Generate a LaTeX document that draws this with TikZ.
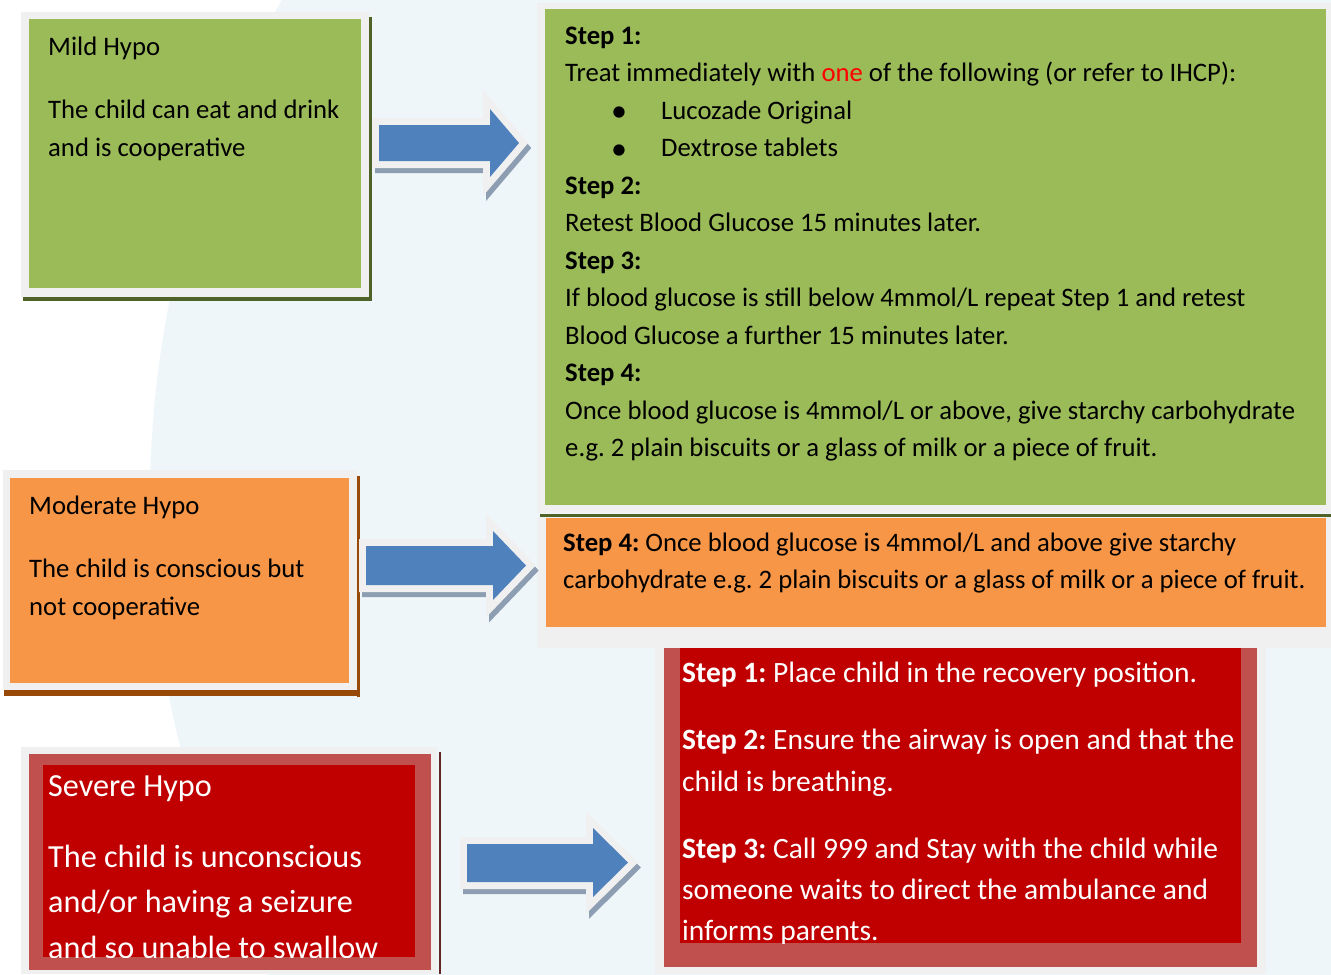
\documentclass[tikz,border=0pt]{standalone}
\usepackage{fontspec}
\setmainfont{Carlito}
\frenchspacing
\definecolor{bgblue}{HTML}{EFF6FA}
\definecolor{framegray}{HTML}{F0F0F0}
\definecolor{mildgreen}{HTML}{9BBB59}
\definecolor{darkgreen}{HTML}{4F6228}
\definecolor{modorange}{HTML}{F79646}
\definecolor{darkbrown}{HTML}{984807}
\definecolor{sevred}{HTML}{C00000}
\definecolor{lightred}{HTML}{C0504D}
\definecolor{darkmaroon}{HTML}{632523}
\definecolor{arrblue}{HTML}{4F81BD}
\definecolor{arrshadow}{HTML}{8D9EB2}
\definecolor{onered}{HTML}{FF0000}
\newcommand\blockarrow[7]{%
  \path[fill=arrshadow, draw=arrshadow, line width=14bp, line join=miter, shift={(3,5)}]
    (#1,#2) -- (#4,#2) -- (#4,#5) -- (#7,{(#5+#6)/2}) -- (#4,#6) -- (#4,#3) -- (#1,#3) -- cycle;
  \path[fill=framegray, draw=framegray, line width=14bp, line join=miter]
    (#1,#2) -- (#4,#2) -- (#4,#5) -- (#7,{(#5+#6)/2}) -- (#4,#6) -- (#4,#3) -- (#1,#3) -- cycle;
  \path[fill=arrblue]
    (#1,#2) -- (#4,#2) -- (#4,#5) -- (#7,{(#5+#6)/2}) -- (#4,#6) -- (#4,#3) -- (#1,#3) -- cycle;
}
\tikzset{
  txt/.style={anchor=base west, inner sep=0pt, font=\fontsize{26.7bp}{32bp}\selectfont},
  bigtxt/.style={anchor=base west, inner sep=0pt, text=white, font=\fontsize{29.5bp}{35bp}\selectfont},
  hugetxt/.style={anchor=base west, inner sep=0pt, text=white, font=\fontsize{32.2bp}{38bp}\selectfont},
  bul/.style={anchor=base, inner sep=0pt, font=\fontsize{32bp}{32bp}\selectfont},
}
\begin{document}
\begin{tikzpicture}[x=1bp,y=-1bp]
\useasboundingbox (0,0) rectangle (1331,974);
% background
\fill[white] (0,0) rectangle (1331,974);
\begin{scope}
  \clip (0,0) rectangle (1331,974);
  \fill[bgblue] (1163,500) circle (1013bp);
\end{scope}

% ---------- Mild box ----------
\fill[darkgreen] (369,17) rectangle (372,301);
\fill[darkgreen] (23,297) rectangle (372,301);
\fill[framegray] (21,12) rectangle (369,297);
\fill[mildgreen] (29,19) rectangle (361,288);
\node[txt] (mildA) at (48,55) {Mild Hypo};
\node[txt] (mildB) at (48,118) {The child can eat and drink};
\node[txt] (mildC) at (48,156) {and is cooperative};

% ---------- Moderate box ----------
\fill[darkbrown] (357,476) rectangle (360,697);
\fill[darkbrown] (4,690) rectangle (360,696);
\fill[framegray] (3,470) rectangle (357,690);
\fill[modorange] (10,478) rectangle (349,683);
\node[txt] (modA) at (29,514) {Moderate Hypo};
\node[txt] (modB) at (29,577) {The child is conscious but};
\node[txt] (modC) at (29,615) {not cooperative};

% ---------- Severe box ----------
\fill[darkmaroon] (439,752) rectangle (441,974);
\fill[framegray] (21,747) rectangle (437,974);
\fill[lightred] (29,754) rectangle (431,970);
\fill[sevred] (43,765) rectangle (415,957);
\begin{scope}
  \clip (43,765) rectangle (415,957);
  \node[hugetxt] (sevA) at (48,796) {Severe Hypo};
  \node[hugetxt] (sevB) at (48,867) {The child is unconscious};
  \node[hugetxt] (sevC) at (48,912) {and/or having a seizure};
  \node[hugetxt] (sevD) at (48,958) {and so unable to swallow};
\end{scope}

% ---------- Green steps box ----------
\fill[framegray] (537,3) rectangle (1331,513);
\fill[mildgreen] (545,9) rectangle (1326,505);
\fill[darkgreen] (540,514) rectangle (1331,517);
\node[txt] (g0) at (565,44) {\textbf{Step 1:}};
\node[txt] (g1) at (565,81.5) {Treat immediately with \textcolor{onered}{one} of the following (or refer to IHCP):};
\node[bul] (b1) at (619,121.5) {•};
\node[txt] (g2) at (661,119) {Lucozade Original};
\node[bul] (b2) at (619,159) {•};
\node[txt] (g3) at (661,156.5) {Dextrose tablets};
\node[txt] (g4) at (565,194) {\textbf{Step 2:}};
\node[txt] (g5) at (565,231.5) {Retest Blood Glucose 15 minutes later.};
\node[txt] (g6) at (565,269) {\textbf{Step 3:}};
\node[txt] (g7) at (565,306.5) {If blood glucose is still below 4mmol/L repeat Step 1 and retest};
\node[txt] (g8) at (565,344) {Blood Glucose a further 15 minutes later.};
\node[txt] (g9) at (565,381.5) {\textbf{Step 4:}};
\node[txt] (g10) at (565,419) {Once blood glucose is 4mmol/L or above, give starchy carbohydrate};
\node[txt] (g11) at (565,456.5) {e.g. 2 plain biscuits or a glass of milk or a piece of fruit.};

% ---------- Orange step box ----------
\fill[framegray] (537,517) rectangle (1331,648);
\fill[modorange] (546,518) rectangle (1326,627);
\node[txt] (o1) at (563,551) {\textbf{Step 4:} Once blood glucose is 4mmol/L and above give starchy};
\node[txt] (o2) at (563,588) {carbohydrate e.g. 2 plain biscuits or a glass of milk or a piece of fruit.};

% ---------- Red steps box ----------
\fill[framegray] (655,648) rectangle (1266,974);
\fill[lightred] (664,648) rectangle (1257,967);
\fill[sevred] (680,648) rectangle (1241,943);
\begin{scope}
  \clip (680,648) rectangle (1241,943);
  \node[bigtxt] (r1) at (682,682) {\textbf{Step 1:} Place child in the recovery position.};
  \node[bigtxt] (r2) at (682,749) {\textbf{Step 2:} Ensure the airway is open and that the};
  \node[bigtxt] (r3) at (682,791) {child is breathing.};
  \node[bigtxt] (r4) at (682,858) {\textbf{Step 3:} Call 999 and Stay with the child while};
  \node[bigtxt] (r5) at (682,899) {someone waits to direct the ambulance and};
  \node[bigtxt] (r6) at (682,940) {informs parents.};
\end{scope}

% ---------- Block arrows ----------
\blockarrow{379}{125}{161}{490}{109}{177}{519}
\blockarrow{366}{546}{585}{493}{531}{600}{526}
\blockarrow{467}{844}{882}{593}{828}{897}{628}
\end{tikzpicture}
\end{document}
